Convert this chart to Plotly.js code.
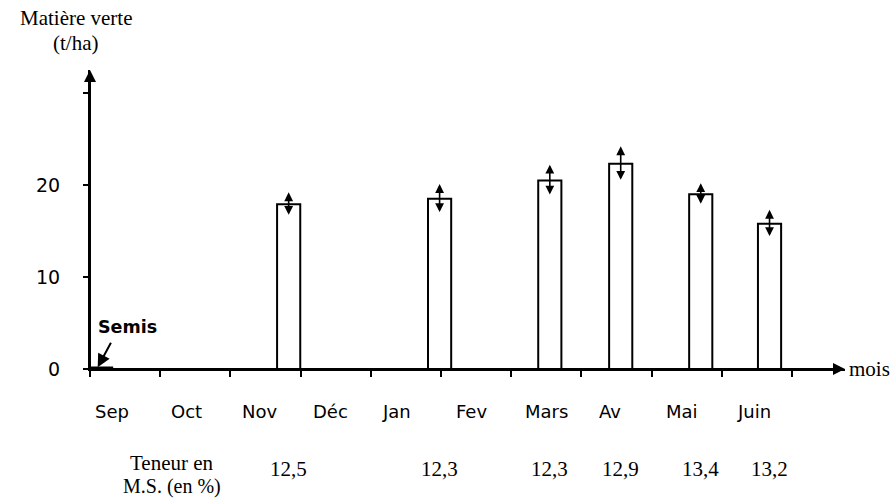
<!DOCTYPE html>
<html>
<head>
<meta charset="utf-8">
<script src="https://cdn.plot.ly/plotly-3.0.1.min.js"></script>
<style>html,body{margin:0;padding:0;background:#fff;}#chart{width:894px;height:499px;}</style>
</head>
<body>
<div id="chart"></div>
<script>
// Months (tick index 0 = start of September)
const months = ['Sep', 'Oct', 'Nov', 'Déc', 'Jan', 'Fev', 'Mars', 'Av', 'Mai', 'Juin'];
const monthLabelX = [0.31, 1.38, 2.42, 3.43, 4.37, 5.43, 6.50, 7.41, 8.43, 9.46];
const monthTicks = [0, 1, 2, 3, 4, 5, 6, 7, 8, 9, 10];

// Harvest dates (position on the month scale), green matter (t/ha), spread (+/-)
const harvestX = [2.83, 4.98, 6.55, 7.56, 8.70, 9.68];
const greenMatter = [17.9, 18.5, 20.5, 22.3, 19.0, 15.8];
const spread = [1.3, 1.6, 1.7, 1.9, 1.2, 1.5];

// Dry matter content (%)
const dryMatter = ['12,5', '12,3', '12,3', '12,9', '13,4', '13,2'];

const yTicks = [0, 10, 20, 30];
const yTickText = ['0', '10', '20', ''];

const serif = 'Liberation Serif, Times New Roman, serif';
const hand = 'DejaVu Sans, sans-serif';

const XMAX = 10.755, YMAX = 32.5;

const annotations = [];
// axis arrows
annotations.push({x: XMAX, y: 0, ax: 0, ay: 0, axref: 'x', ayref: 'y', xref: 'x', yref: 'y',
  text: '', showarrow: true, arrowhead: 2, arrowsize: 1.2, arrowwidth: 2, arrowcolor: '#000', standoff: 0});
annotations.push({x: 0, y: YMAX, ax: 0, ay: 0, axref: 'x', ayref: 'y', xref: 'x', yref: 'y',
  text: '', showarrow: true, arrowhead: 2, arrowsize: 1.2, arrowwidth: 2, arrowcolor: '#000', standoff: 0});
// spread arrows
harvestX.forEach((x, i) => {
  annotations.push({x: x, y: greenMatter[i] + spread[i], ax: x, ay: greenMatter[i] - spread[i],
    axref: 'x', ayref: 'y', xref: 'x', yref: 'y', text: '', showarrow: true,
    arrowside: 'end+start', arrowhead: 2, arrowsize: 1.1, arrowwidth: 1.6, arrowcolor: '#000', standoff: 0, startstandoff: 0});
});
// month labels
months.forEach((m, i) => {
  annotations.push({x: monthLabelX[i], y: 0, xref: 'x', yref: 'y', yshift: -42, text: m, showarrow: false,
    xanchor: 'center', yanchor: 'middle', font: {family: hand, size: 18, color: '#000'}});
});
// dry matter row
dryMatter.forEach((t, i) => {
  annotations.push({x: harvestX[i], y: 0, xref: 'x', yref: 'y', yshift: -100, text: t, showarrow: false,
    xanchor: 'center', yanchor: 'middle', font: {family: serif, size: 21, color: '#000'}});
});
annotations.push({x: 1.17, y: 0, xref: 'x', yref: 'y', yshift: -94, text: 'Teneur en', showarrow: false,
  xanchor: 'center', yanchor: 'middle', font: {family: serif, size: 21, color: '#000'}});
annotations.push({x: 1.17, y: 0, xref: 'x', yref: 'y', yshift: -117, text: 'M.S. (en %)', showarrow: false,
  xanchor: 'center', yanchor: 'middle', font: {family: serif, size: 20, color: '#000'}});
// axis titles
annotations.push({x: -14 / 755, y: 1, xref: 'paper', yref: 'paper', yshift: 52, text: 'Matière verte', showarrow: false,
  xanchor: 'center', yanchor: 'middle', font: {family: serif, size: 21, color: '#000'}});
annotations.push({x: -15 / 755, y: 1, xref: 'paper', yref: 'paper', yshift: 27, text: '(t/ha)', showarrow: false,
  xanchor: 'center', yanchor: 'middle', font: {family: serif, size: 21, color: '#000'}});
annotations.push({x: XMAX, y: 0, xref: 'x', yref: 'y', xshift: 2, text: 'mois', showarrow: false,
  xanchor: 'left', yanchor: 'middle', font: {family: serif, size: 21, color: '#000'}});
// Semis
annotations.push({x: 0.54, y: 4.6, xref: 'x', yref: 'y', text: '<b>Semis</b>', showarrow: false,
  xanchor: 'center', yanchor: 'middle', font: {family: hand, size: 17.5, color: '#000'}});
annotations.push({x: 0.11, y: 0.2, xref: 'x', yref: 'y', ax: 14, ay: -26, text: '', showarrow: true,
  arrowhead: 2, arrowsize: 1.3, arrowwidth: 2, arrowcolor: '#000', standoff: 0});

const data = [{
  type: 'bar', x: harvestX, y: greenMatter, width: 0.33,
  marker: {color: '#fff', line: {color: '#000', width: 2}},
  hoverinfo: 'skip', cliponaxis: false
}];

const layout = {
  width: 894, height: 499,
  margin: {l: 90, r: 49, t: 70, b: 130},
  paper_bgcolor: '#fff', plot_bgcolor: '#fff',
  showlegend: false,
  xaxis: {range: [0, XMAX], tickvals: monthTicks, ticktext: monthTicks.map(() => ''),
    ticks: 'outside', ticklen: 6, tickwidth: 2, tickcolor: '#000',
    showline: true, linecolor: '#000', linewidth: 2, showgrid: false, zeroline: false, fixedrange: true},
  yaxis: {range: [0, YMAX], tickvals: yTicks, ticktext: yTickText,
    ticks: 'outside', ticklen: 5, tickwidth: 2, tickcolor: '#000', ticklabelstandoff: 19,
    tickfont: {family: hand, size: 19, color: '#000'},
    showline: true, linecolor: '#000', linewidth: 2, showgrid: false, zeroline: false, fixedrange: true},
  shapes: [{type: 'line', xref: 'x', yref: 'y', x0: 0, x1: 0.33, y0: 0, y1: 0, line: {color: '#000', width: 5}}],
  annotations: annotations
};

Plotly.newPlot('chart', data, layout, {displayModeBar: false, staticPlot: true});
</script>
</body>
</html>
